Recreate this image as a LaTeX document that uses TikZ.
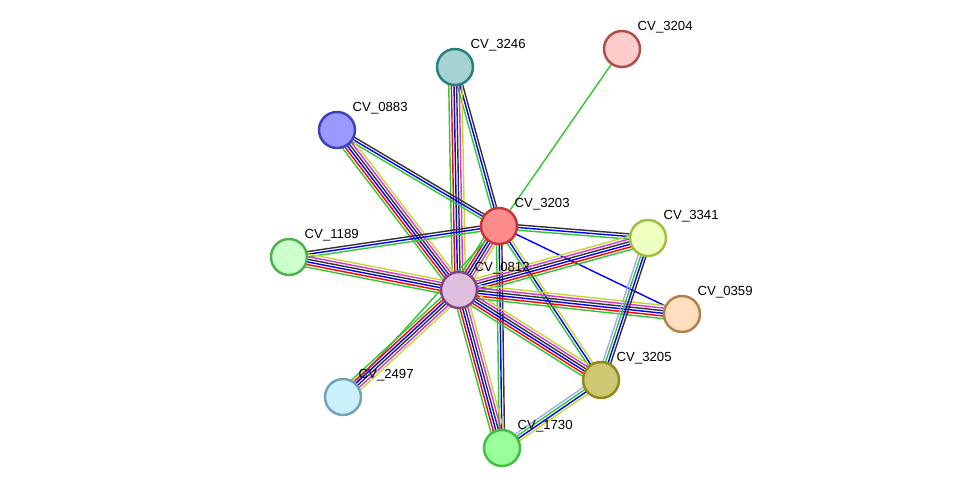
\documentclass[tikz,border=0pt]{standalone}
\usepackage{fontspec}
\setmainfont{Liberation Sans}
\usetikzlibrary{calc,backgrounds}

\definecolor{tm}{HTML}{C4D631}
\definecolor{hm}{HTML}{A9A9F0}
\definecolor{gn}{HTML}{33C633}
\definecolor{ex}{HTML}{D633D6}

\tikzset{
  prot/.style={circle,draw,line width=1.4pt,minimum size=36\pgfxx,inner sep=0pt},
  lab/.style={label={[font=\fontsize{7.5}{8}\selectfont,anchor=south west,inner sep=1pt]45:#1}},
  ln/.style={line width=0.8pt}
}
\newlength\pgfxx \setlength\pgfxx{0.02cm}

% parallel lines between two nodes: #1,#2 nodes, #3 count, #4 colours
\newcommand\lnk[4]{%
  \foreach \c [count=\i] in {#4} {
    \pgfmathsetmacro\d{(\i-(#3+1)/2)*1.5}
    \draw [ln,color=\c] ($(#1)!\d pt!90:(#2)$) -- ($(#2)!\d pt!-90:(#1)$);
  }}

\begin{document}
\begin{tikzpicture}[x=0.02cm,y=-0.02cm]
\useasboundingbox (0,0) rectangle (975,494);

%proteins
\node [prot,fill=teal!35!white,draw=teal!70!gray,lab=CV\_3246] (p3246) at (455,67) {};
\node [prot,fill=red!20!white,draw=red!40!gray,lab=CV\_3204] (p3204) at (622,49) {};
\node [prot,fill=blue!40!white,draw=blue!50!gray,lab=CV\_0883] (p0883) at (337,130) {};
\node [prot,fill=red!45!white,draw=red!60!gray,lab=CV\_3203] (p3203) at (499,226) {};
\node [prot,fill=lime!25!white,draw=lime!50!gray,lab=CV\_3341] (p3341) at (648,238) {};
\node [prot,fill=green!20!white,draw=green!40!gray,lab=CV\_1189] (p1189) at (289,257) {};
\node [prot,fill=violet!25!white,draw=violet!45!gray,lab=CV\_0812] (p0812) at (459,290) {};
\node [prot,fill=orange!25!white,draw=orange!40!gray,lab=CV\_0359] (p0359) at (682,314) {};
\node [prot,fill=olive!45!white,draw=olive!80!gray,lab=CV\_3205] (p3205) at (601,380) {};
\node [prot,fill=cyan!20!white,draw=cyan!40!gray,lab=CV\_2497] (p2497) at (343,397) {};
\node [prot,fill=green!40!white,draw=green!50!gray,lab=CV\_1730] (p1730) at (502,448) {};

%edges
\begin{scope}[on background layer]
\lnk{p3204}{p3203}{1}{gn}
\lnk{p3246}{p3203}{3}{gn,blue,black!80}
\lnk{p3246}{p0812}{6}{gn,red,blue,black!80,ex,tm}
\lnk{p0883}{p3203}{3}{gn,blue,black!80}
\lnk{p0883}{p0812}{6}{gn,red,blue,black!80,ex,tm}
\lnk{p1189}{p3203}{3}{gn,blue,black!80}
\lnk{p1189}{p0812}{6}{gn,red,blue,black!80,ex,tm}
\lnk{p3203}{p3341}{3}{gn,blue,black!80}
\lnk{p3203}{p0359}{1}{blue}
\lnk{p3203}{p0812}{6}{gn,red,blue,black!80,ex,tm}
\lnk{p3203}{p3205}{3}{gn,blue,tm}
\lnk{p3203}{p1730}{3}{gn,blue,black!80}
\lnk{p3203}{p2497}{1}{gn}
\lnk{p0812}{p2497}{6}{gn,red,blue,black!80,ex,tm}
\lnk{p0812}{p3341}{6}{gn,red,blue,black!80,ex,tm}
\lnk{p0812}{p0359}{6}{gn,red,blue,black!80,ex,tm}
\lnk{p0812}{p3205}{6}{gn,red,blue,black!80,ex,tm}
\lnk{p0812}{p1730}{6}{gn,red,blue,black!80,ex,tm}
\lnk{p3341}{p3205}{4}{hm,gn,blue,black!80}
\lnk{p3205}{p1730}{4}{hm,gn,blue,tm}
\end{scope}
\end{tikzpicture}
\end{document}
